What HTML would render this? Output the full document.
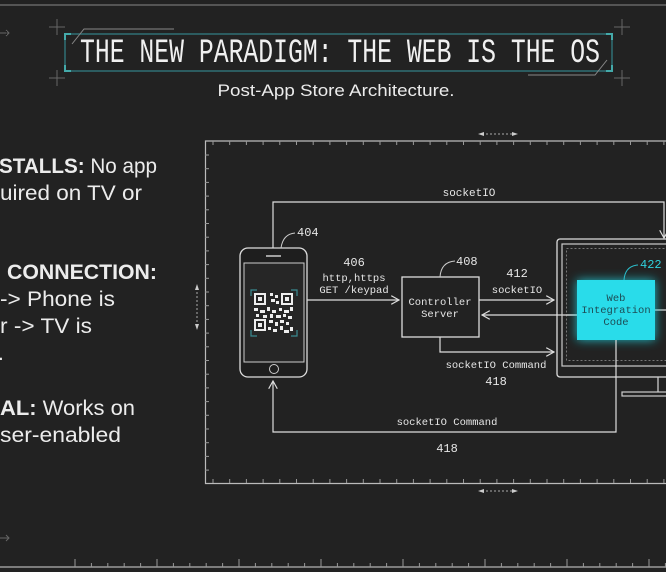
<!DOCTYPE html>
<html><head><meta charset="utf-8"><style>
html,body{margin:0;padding:0;background:#222222;}
svg{display:block;}
.m{font-family:"Liberation Mono","DejaVu Sans Mono",monospace;fill:#e6e6e6;}
.s{font-family:"Liberation Sans",sans-serif;fill:#ececec;}
</style></head><body>
<svg width="666" height="572" viewBox="0 0 666 572" xmlns="http://www.w3.org/2000/svg">
<defs>
<filter id="glow" x="-40%" y="-40%" width="180%" height="180%"><feGaussianBlur stdDeviation="5"/></filter>
<marker id="ar" viewBox="0 0 10 10" refX="9" refY="5" markerWidth="9" markerHeight="9" orient="auto" markerUnits="userSpaceOnUse"><path d="M0,0 L9,5 L0,10" fill="none" stroke="#ddd" stroke-width="1.3"/></marker>
</defs>
<rect width="666" height="572" fill="#222"/>
<line x1="0" y1="5" x2="666" y2="5" stroke="#666" stroke-width="1.5"/>
<g stroke="#666" stroke-width="1">
<path d="M49,27h16M57,19v16M49,78h16M57,70v16M614,27h16M622,19v16M614,78h16M622,70v16"/>
<path d="M0,33h9M6,30l3,3-3,3"/>
</g>
<rect x="65" y="34" width="547" height="37" fill="none" stroke="#2f6f75" stroke-width="1.5"/>
<path d="M72,44 L84,29 H174" stroke="#888" fill="none"/>
<path d="M528,75 H595 L607,60" stroke="#888" fill="none"/>
<path d="M65,40v-6h6M612,40v-6h-6M65,65v6h6M612,65v6h-6" stroke="#4aa" fill="none" stroke-width="2"/>
<text x="340" y="62" class="m" font-size="26" text-anchor="middle" textLength="520" lengthAdjust="spacingAndGlyphs" transform="translate(0,-20) scale(1,1.32)" style="fill:#f0f0f0">THE NEW PARADIGM: THE WEB IS THE OS</text>
<text x="336" y="96" class="s" font-size="17" text-anchor="middle" textLength="237" lengthAdjust="spacingAndGlyphs">Post-App Store Architecture.</text>
<g class="s" font-size="21">
<text x="-1" y="173" textLength="158" lengthAdjust="spacingAndGlyphs"><tspan font-weight="bold">STALLS:</tspan> No app</text>
<text x="0" y="200" textLength="142" lengthAdjust="spacingAndGlyphs">uired on TV or</text>
<text x="7" y="279" font-weight="bold" textLength="150" lengthAdjust="spacingAndGlyphs">CONNECTION:</text>
<text x="0" y="306" textLength="115" lengthAdjust="spacingAndGlyphs">-&gt; Phone is</text>
<text x="0" y="333" textLength="92" lengthAdjust="spacingAndGlyphs">r -&gt; TV is</text>
<text x="-2" y="360">.</text>
<text x="0" y="415" textLength="135" lengthAdjust="spacingAndGlyphs"><tspan font-weight="bold">AL:</tspan> Works on</text>
<text x="0" y="442" textLength="121" lengthAdjust="spacingAndGlyphs">ser-enabled</text>
</g>
<g stroke="#aaa" fill="#ccc"><line x1="197" y1="288" x2="197" y2="326" stroke-dasharray="2,2"/><path d="M195,290l2,-6 2,6z M195,324l2,6 2,-6z" stroke="none"/></g>
<g stroke="#aaa" fill="#ccc"><line x1="482" y1="134" x2="514" y2="134" stroke-dasharray="2,2"/><path d="M484,132l-6,2 6,2z M512,132l6,2 -6,2z" stroke="none"/>
<line x1="482" y1="491" x2="514" y2="491" stroke-dasharray="2,2"/><path d="M484,489l-6,2 6,2z M512,489l6,2 -6,2z" stroke="none"/></g>
<path d="M670,141 H205.5 V483.5 H670" fill="none" stroke="#bbb" stroke-width="1.2"/>
<g stroke="#999" stroke-width="1" id="ticks"></g>
<line x1="0" y1="567" x2="666" y2="567" stroke="#999" stroke-width="1.5"/>
<g id="rul" stroke="#999"></g>
<text x="469" y="196" class="m" font-size="11" text-anchor="middle">socketIO</text>
<path d="M273,248 V202 H664 V238" fill="none" stroke="#ddd" stroke-width="1.2" marker-end="url(#ar)"/>
<rect x="240" y="248" width="67" height="129" rx="8" fill="#1e1e1e" stroke="#ddd" stroke-width="1.3"/>
<rect x="244" y="263" width="60" height="99" fill="#262626" stroke="#ccc" stroke-width="1"/>
<line x1="266" y1="256" x2="281" y2="256" stroke="#ccc" stroke-width="1.5"/>
<circle cx="274" cy="369" r="4.5" fill="none" stroke="#ccc"/>
<path d="M251,296v-6h6M297,296v-6h-6M251,330v6h6M297,330v6h-6" stroke="#3a8a90" fill="none" stroke-width="1.2"/>
<g fill="#eee">
<rect x="255" y="294" width="10" height="10" fill="none" stroke="#eee" stroke-width="2"/><rect x="258" y="297" width="4" height="4"/>
<rect x="282" y="294" width="10" height="10" fill="none" stroke="#eee" stroke-width="2"/><rect x="285" y="297" width="4" height="4"/>
<rect x="255" y="320" width="10" height="10" fill="none" stroke="#eee" stroke-width="2"/><rect x="258" y="323" width="4" height="4"/>
<rect x="270" y="293" width="3" height="3"/><rect x="275" y="295" width="3" height="3"/><rect x="271" y="299" width="4" height="3"/><rect x="276" y="301" width="3" height="3"/>
<rect x="254" y="308" width="4" height="3"/><rect x="260" y="310" width="5" height="3"/><rect x="267" y="307" width="3" height="4"/><rect x="272" y="310" width="4" height="3"/><rect x="279" y="308" width="3" height="3"/><rect x="284" y="310" width="5" height="3"/><rect x="290" y="307" width="3" height="4"/>
<rect x="256" y="314" width="3" height="3"/><rect x="263" y="315" width="4" height="3"/><rect x="270" y="314" width="3" height="4"/><rect x="276" y="315" width="5" height="3"/><rect x="283" y="314" width="3" height="3"/><rect x="288" y="316" width="4" height="3"/>
<rect x="269" y="320" width="4" height="3"/><rect x="275" y="322" width="3" height="4"/><rect x="280" y="320" width="4" height="3"/><rect x="286" y="322" width="3" height="3"/>
<rect x="268" y="327" width="3" height="3"/><rect x="273" y="329" width="4" height="3"/><rect x="280" y="326" width="3" height="4"/><rect x="284" y="330" width="5" height="3"/><rect x="290" y="327" width="3" height="4"/>
</g>
<path d="M281,248 Q283,234 295,233" fill="none" stroke="#ccc"/>
<text x="297" y="236" class="m" font-size="12">404</text>
<text x="354" y="266" class="m" font-size="12" text-anchor="middle">406</text>
<text x="354" y="281" class="m" font-size="10.5" text-anchor="middle">http,https</text>
<text x="354" y="293" class="m" font-size="10.5" text-anchor="middle">GET /keypad</text>
<line x1="307" y1="300" x2="399" y2="300" stroke="#ddd" stroke-width="1.2" marker-end="url(#ar)"/>
<rect x="402" y="277" width="77" height="60" fill="none" stroke="#ddd" stroke-width="1.3"/>
<text x="440" y="305" class="m" font-size="10.5" text-anchor="middle">Controller</text>
<text x="440" y="317" class="m" font-size="10.5" text-anchor="middle">Server</text>
<path d="M440,277 Q441,262 455,261" fill="none" stroke="#ccc"/>
<text x="456" y="265" class="m" font-size="12">408</text>
<text x="517" y="277" class="m" font-size="12" text-anchor="middle">412</text>
<text x="517" y="293" class="m" font-size="10.5" text-anchor="middle">socketIO</text>
<line x1="479" y1="300" x2="554" y2="300" stroke="#ddd" stroke-width="1.2" marker-end="url(#ar)"/>
<line x1="577" y1="315" x2="482" y2="315" stroke="#ddd" stroke-width="1.2" marker-end="url(#ar)"/>
<path d="M440,337 V352 H554" fill="none" stroke="#ddd" stroke-width="1.2" marker-end="url(#ar)"/>
<text x="496" y="368" class="m" font-size="10.5" text-anchor="middle">socketIO Command</text>
<text x="496" y="385" class="m" font-size="12" text-anchor="middle">418</text>
<rect x="557" y="239" width="120" height="138" rx="3" fill="none" stroke="#ddd" stroke-width="1.3"/>
<rect x="562" y="244" width="120" height="122" fill="none" stroke="#ccc" stroke-width="1.2"/>
<rect x="566.5" y="248.5" width="120" height="112" fill="none" stroke="#777" stroke-dasharray="2,2"/>
<line x1="658" y1="377" x2="658" y2="392" stroke="#ccc" stroke-width="1.3"/>
<rect x="622" y="392" width="60" height="4" fill="none" stroke="#ccc" stroke-width="1.2"/>
<line x1="655" y1="310" x2="666" y2="310" stroke="#ddd" stroke-width="1.2"/>
<line x1="566" y1="315" x2="577" y2="315" stroke="#ddd" stroke-width="1.2"/>
<rect x="577" y="280" width="78" height="60" fill="#1fe0ee" filter="url(#glow)" opacity="0.8"/>
<rect x="577" y="280" width="78" height="60" fill="#29dcea"/>
<g class="m" font-size="10.5" text-anchor="middle" style="fill:#1d4c55"><text x="616" y="301">Web</text><text x="616" y="313">Integration</text><text x="616" y="325">Code</text></g>
<path d="M624,280 Q625,266 638,265" fill="none" stroke="#2bbfcc"/>
<text x="640" y="268" class="m" font-size="12" style="fill:#2fd0dc">422</text>
<path d="M616,340 V432 H273 V381" fill="none" stroke="#ddd" stroke-width="1.2" marker-end="url(#ar)"/>
<text x="447" y="425" class="m" font-size="10.5" text-anchor="middle">socketIO Command</text>
<text x="447" y="452" class="m" font-size="12" text-anchor="middle">418</text>
<path d="M0,538h9M6,535l3,3-3,3" stroke="#666" fill="none"/>
</svg>
<script>
var ns="http://www.w3.org/2000/svg",t=document.getElementById("ticks"),r=document.getElementById("rul");
function L(g,a,b,c,d){var l=document.createElementNS(ns,"line");l.setAttribute("x1",a);l.setAttribute("y1",b);l.setAttribute("x2",c);l.setAttribute("y2",d);g.appendChild(l);}
for(var x=213;x<666;x+=16.7){L(t,x,141,x,145);L(t,x,483,x,479);}
for(var y=155;y<480;y+=13.7){L(t,205,y,209,y);}
for(var i=0;i<38;i++){var xx=75+i*16.4;L(r,xx,567,xx,(i%5==0)?559:563);}
</script>
</body></html>
